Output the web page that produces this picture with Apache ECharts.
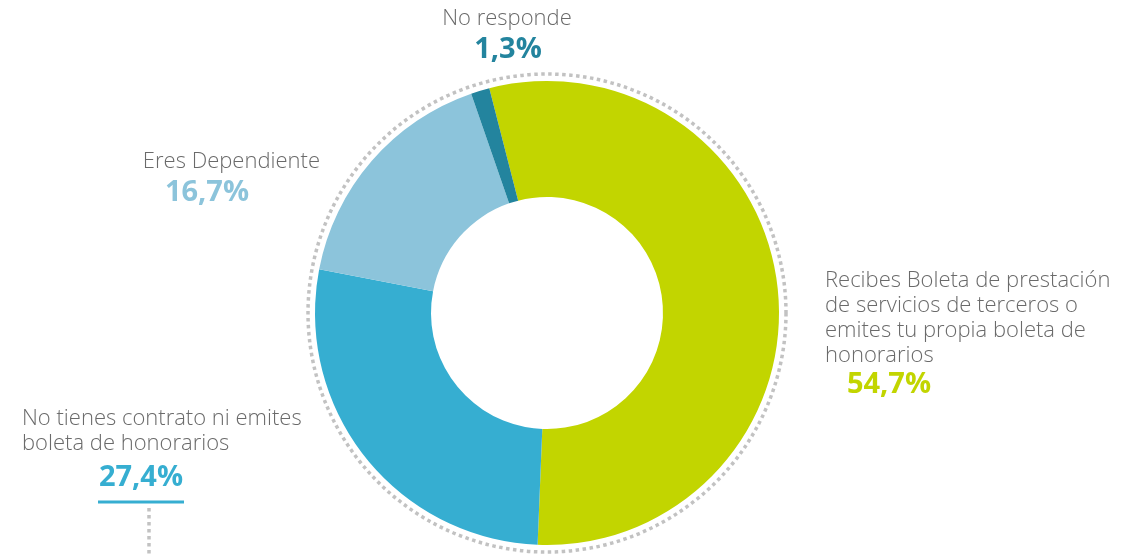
<!DOCTYPE html>
<html>
<head>
<meta charset="utf-8">
<script src="https://cdn.jsdelivr.net/npm/echarts@6/dist/echarts.min.js"></script>
<style>html,body{margin:0;padding:0;background:#fff;}#c{width:1141px;height:555px;}</style>
</head>
<body>
<div id="c"></div>
<script>
var categories = [
  'Recibes Boleta de prestación\nde servicios de terceros o\nemites tu propia boleta de\nhonorarios',
  'No tienes contrato ni emites\nboleta de honorarios',
  'Eres Dependiente',
  'No responde'
];
var values = [54.7, 27.4, 16.7, 1.3];
var colors = ['#c2d500', '#36aed1', '#8cc4db', '#23849e'];

function pct(v){ return v.toFixed(1).replace('.', ',') + '%'; }

var chart = echarts.init(document.getElementById('c'), null, {renderer:'canvas'});
var FONT = '"Open Sans", sans-serif';
var TXT = '#6a6a6a';

function labelGroup(i, x, y, align, px, py){
  return [
    {type:'text', x:x, y:y, style:{text:categories[i], fill:TXT, font:'300 22px ' + FONT, textAlign:align, textVerticalAlign:'top', lineHeight:25}},
    {type:'text', x:px, y:py, style:{text:pct(values[i]), fill:colors[i], font:'bold 29px ' + FONT, textAlign:'center', textVerticalAlign:'top'}}
  ];
}

var graphics = [
  {type:'circle', shape:{cx:547, cy:313, r:239}, style:{fill:'none', stroke:'#c2c2c2', lineWidth:3.5, lineDash:[3.5,3.5]}, z:-1}
];
graphics = graphics.concat(labelGroup(3, 507, 6, 'center', 508, 35));
graphics = graphics.concat(labelGroup(2, 320, 149, 'right', 207, 178));
graphics = graphics.concat(labelGroup(0, 825, 268, 'left', 889, 370));
graphics = graphics.concat(labelGroup(1, 22, 406, 'left', 141, 463));
graphics.push({type:'line', shape:{x1:98, y1:502, x2:184, y2:502}, style:{stroke:colors[1], lineWidth:3}});
graphics.push({type:'line', shape:{x1:149, y1:508, x2:149, y2:560}, style:{stroke:'#c2c2c2', lineWidth:3.5, lineDash:[3.5,3.5]}});

chart.setOption({
  animation:false,
  backgroundColor:'#fff',
  series:[{
    type:'pie',
    center:[547, 313],
    radius:[116, 232],
    startAngle:104.4,
    clockwise:true,
    label:{show:false},
    labelLine:{show:false},
    emphasis:{disabled:true},
    data: values.map(function(v,i){ return {value:v, name:categories[i], itemStyle:{color:colors[i]}}; })
  }],
  graphic: graphics
});
</script>
</body>
</html>
